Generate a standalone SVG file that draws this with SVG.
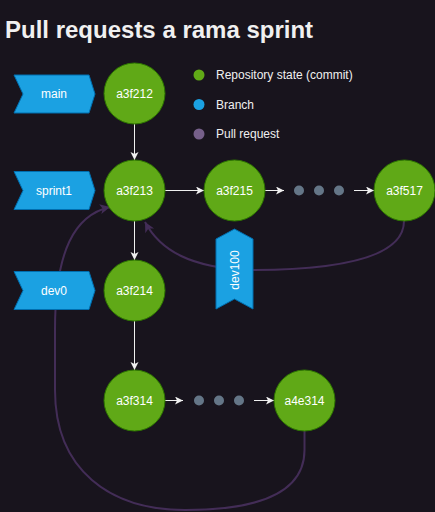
<svg xmlns="http://www.w3.org/2000/svg" width="435" height="512" viewBox="0 0 435 512">
<style>
text{font-family:"Liberation Sans",Arial,sans-serif;fill:#f0f0f0}
.title{font-size:24px;font-weight:bold}
.lbl{font-size:12px;text-anchor:middle;dominant-baseline:central;fill:#ffffff}
.leg{font-size:12px;dominant-baseline:central}
.commit{fill:#60a917;stroke:#2d7600;stroke-width:1}
.branch{fill:#1ba1e2;stroke:#006eaf;stroke-width:1}
.dot{fill:#647687}
.flow{stroke:#f0f0f0;stroke-width:1;fill:none;marker-end:url(#aw)}
.pr{stroke:#432d57;stroke-width:2;fill:none;marker-end:url(#ap)}
</style>
<defs>
<marker id="aw" markerUnits="userSpaceOnUse" markerWidth="9" markerHeight="9" refX="8" refY="4" orient="auto"><path d="M0,0 L8,4 L0,8 L2,4 z" fill="#f0f0f0"/></marker>
<marker id="ap" markerUnits="userSpaceOnUse" markerWidth="12" markerHeight="12" refX="10" refY="5" orient="auto"><path d="M0,0 L10,5 L0,10 L2.5,5 z" fill="#432d57"/></marker>
</defs>
<rect width="435" height="512" fill="#18141d"/>
<text class="title" x="5" y="38">Pull requests a rama sprint</text>

<g id="connectors">
<path class="flow" d="M134.5,124 L134.5,160"/>
<path class="flow" d="M165,190.5 L204,190.5"/>
<path class="flow" d="M265,190.5 L284,190.5"/>
<path class="flow" d="M354,190.5 L374,190.5"/>
<path class="flow" d="M134.5,221 L134.5,260"/>
<path class="flow" d="M134.5,321 L134.5,370"/>
<path class="flow" d="M165,400.5 L183,400.5"/>
<path class="flow" d="M254,400.5 L274,400.5"/>
<path class="pr" d="M404,221 C404,260 330,270 250,270 C190,268 160,250 145,222"/>
<path class="pr" d="M304.5,431 L304.5,450 C304.5,492 260,510 185,510 C110,510 55,470 55,390 L55,330 C55,250 75,215 110,207"/>
</g>

<g id="legend">
<circle cx="199" cy="75" r="5.5" fill="#60a917"/>
<text class="leg" x="216" y="75">Repository state (commit)</text>
<circle cx="199" cy="104.5" r="5.5" fill="#1ba1e2"/>
<text class="leg" x="216" y="104.5">Branch</text>
<circle cx="199" cy="134" r="5.5" fill="#76608a"/>
<text class="leg" x="216" y="134">Pull request</text>
</g>

<g id="main"><path class="branch" d="M14,75 L89,75 L95,94 L89,113 L14,113 L23,94 z"/><text class="lbl" x="54" y="94">main</text></g>
<g id="sprint1"><path class="branch" d="M14,171.5 L89,171.5 L95,190.5 L89,209.5 L14,209.5 L23,190.5 z"/><text class="lbl" x="54" y="190.5">sprint1</text></g>
<g id="dev0"><path class="branch" d="M14,271.5 L89,271.5 L95,290.5 L89,309.5 L14,309.5 L23,290.5 z"/><text class="lbl" x="54" y="290.5">dev0</text></g>
<g id="dev100"><path class="branch" d="M216,239 L234.5,229 L253,239 L253,309 L234.5,299 L216,309 z"/><text class="lbl" transform="translate(234.5,270) rotate(-90)" x="0" y="0">dev100</text></g>

<g id="a3f212"><circle class="commit" cx="134.5" cy="93.5" r="30.5"/><text class="lbl" x="134.5" y="93.5">a3f212</text></g>
<g id="a3f213"><circle class="commit" cx="134.5" cy="190.5" r="30.5"/><text class="lbl" x="134.5" y="190.5">a3f213</text></g>
<g id="a3f215"><circle class="commit" cx="234.5" cy="190.5" r="30.5"/><text class="lbl" x="234.5" y="190.5">a3f215</text></g>
<g id="dots1"><circle class="dot" cx="299" cy="190.5" r="5"/><circle class="dot" cx="319" cy="190.5" r="5"/><circle class="dot" cx="339" cy="190.5" r="5"/></g>
<g id="a3f517"><circle class="commit" cx="404.5" cy="190.5" r="30.5"/><text class="lbl" x="404.5" y="190.5">a3f517</text></g>
<g id="a3f214"><circle class="commit" cx="134.5" cy="290.5" r="30.5"/><text class="lbl" x="134.5" y="290.5">a3f214</text></g>
<g id="a3f314"><circle class="commit" cx="134.5" cy="400.5" r="30.5"/><text class="lbl" x="134.5" y="400.5">a3f314</text></g>
<g id="dots2"><circle class="dot" cx="199" cy="400.5" r="5"/><circle class="dot" cx="219" cy="400.5" r="5"/><circle class="dot" cx="239" cy="400.5" r="5"/></g>
<g id="a4e314"><circle class="commit" cx="304.5" cy="400.5" r="30.5"/><text class="lbl" x="304.5" y="400.5">a4e314</text></g>
</svg>
